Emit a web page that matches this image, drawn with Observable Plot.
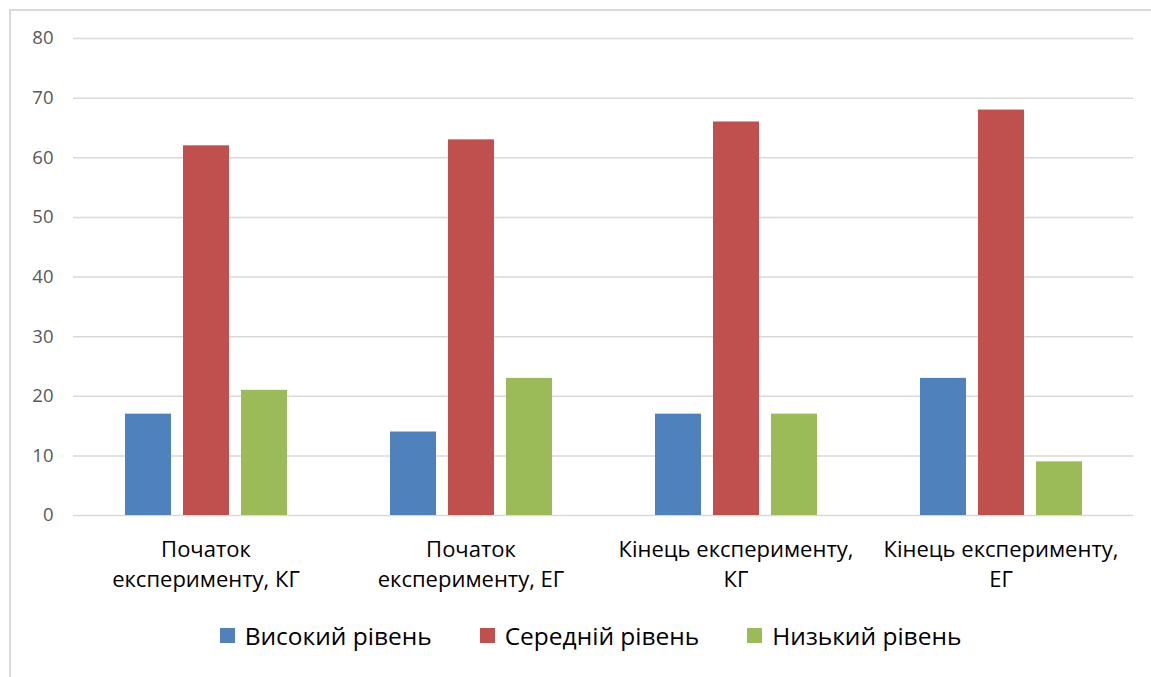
<!DOCTYPE html>
<html>
<head>
<meta charset="utf-8">
<script src="https://cdn.jsdelivr.net/npm/d3@7"></script>
<script src="https://cdn.jsdelivr.net/npm/@observablehq/plot@0.6"></script>
<style>
  html, body { margin: 0; padding: 0; background: #fff; }
  body { width: 1151px; height: 677px; position: relative; overflow: hidden; font-family: "Open Sans", sans-serif; }
  #frame { position: absolute; left: 9px; top: 9px; width: 1200px; height: 700px; border: 2px solid #d9d9d9; box-sizing: border-box; }
  #chart { position: absolute; left: 0; top: 0; }
  #legend { position: absolute; left: 15px; top: 619px; width: 1151px; display: flex; justify-content: center; gap: 48px; font-size: 24.5px; color: #000; }
  .item { display: flex; align-items: center; gap: 10px; }
  .sw { width: 15px; height: 15px; display: inline-block; }
</style>
</head>
<body>
<div id="frame"></div>
<div id="chart"></div>
<div id="legend"></div>
<script>
const categories = ["Початок експерименту, КГ", "Початок експерименту, ЕГ", "Кінець експерименту, КГ", "Кінець експерименту, ЕГ"];
const categoryLabels = ["Початок\nексперименту, КГ", "Початок\nексперименту, ЕГ", "Кінець експерименту,\nКГ", "Кінець експерименту,\nЕГ"];
const series = ["Високий рівень", "Середній рівень", "Низький рівень"];
const colors = ["#4f81bd", "#c0504d", "#9bbb59"];
const high = [17, 14, 17, 23];
const medium = [62, 63, 66, 68];
const low = [21, 23, 17, 9];
const yTicks = [0, 10, 20, 30, 40, 50, 60, 70, 80];

const values = [high, medium, low];
const data = [];
categories.forEach((c, i) => series.forEach((s, j) => data.push({category: c, series: s, value: values[j][i]})));

const chart = Plot.plot({
  width: 1151,
  height: 600,
  marginLeft: 72,
  marginRight: 18,
  marginTop: 38,
  marginBottom: 85,
  style: {fontFamily: "Open Sans, sans-serif", background: "transparent"},
  fx: {domain: categories, paddingInner: 0, paddingOuter: 0},
  x: {domain: series, paddingInner: 0.214, paddingOuter: 0.872, axis: null},
  y: {domain: [0, 80]},
  color: {domain: series, range: colors},
  marks: [
    Plot.ruleY(yTicks, {stroke: "#d9d9d9", strokeWidth: 1.5}),
    Plot.barY(data, {fx: "category", x: "series", y: "value", fill: "series"}),
    Plot.axisY(yTicks, {tickSize: 0, tickPadding: 20, fontSize: 18.5, fill: "#595959", label: null}),
    Plot.axisFx({anchor: "bottom", tickSize: 0, tickPadding: 20, fontSize: 22, fill: "#000", label: null, lineHeight: 1.36,
      tickFormat: d => categoryLabels[categories.indexOf(d)]})
  ]
});
document.getElementById("chart").appendChild(chart);

const legend = document.getElementById("legend");
series.forEach((s, i) => {
  const item = document.createElement("div");
  item.className = "item";
  const sw = document.createElement("span");
  sw.className = "sw";
  sw.style.background = colors[i];
  const t = document.createElement("span");
  t.textContent = s;
  item.appendChild(sw);
  item.appendChild(t);
  legend.appendChild(item);
});
</script>
</body>
</html>
